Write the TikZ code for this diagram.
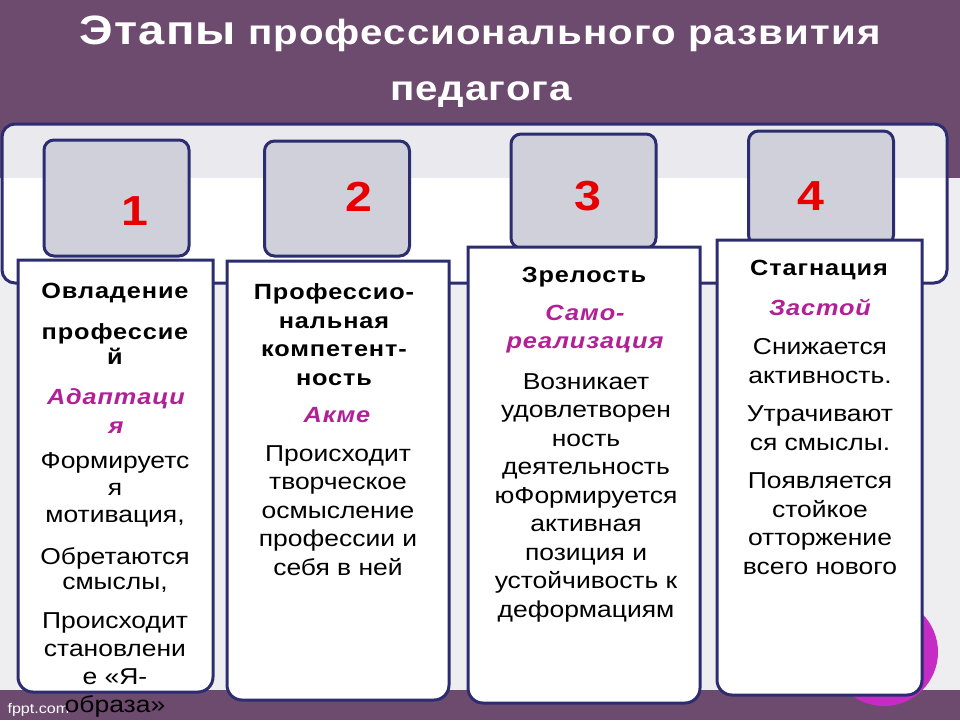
\documentclass[tikz,border=0pt]{standalone}
\usepackage{fontspec}
\setmainfont{Liberation Sans}[FakeStretch=1.15]
\usetikzlibrary{positioning}
\usetikzlibrary{calc}
\definecolor{slidepurple}{RGB}{108,75,110}
\definecolor{slidegrey}{RGB}{238,238,241}
\definecolor{framegrey}{RGB}{234,234,238}
\definecolor{navy}{RGB}{44,45,112}
\definecolor{numgrey}{RGB}{207,208,218}
\definecolor{numred}{RGB}{232,0,0}
\definecolor{keymagenta}{RGB}{178,32,150}
\definecolor{discmagenta}{RGB}{196,44,196}
\tikzset{frame/.style={draw=navy, line width=3pt, rounded corners=13pt}}
\tikzset{numbox/.style={rectangle, draw=navy, line width=3pt, fill=numgrey, rounded corners=10pt}}
\tikzset{numtext/.style={text=numred, font=\bfseries\fontsize{42}{44}\selectfont}}
\tikzset{stagebox/.style={draw=navy, line width=3pt, fill=white}}
\tikzset{stagehead/.style={align=center, font=\bfseries\fontsize{22}{28.5}\selectfont\addfontfeature{LetterSpace=4}}}
\tikzset{stagekey/.style={align=center, text=keymagenta, font=\bfseries\itshape\fontsize{22}{28.5}\selectfont\addfontfeature{LetterSpace=4}}}
\tikzset{stagetext/.style={align=center, font=\fontsize{23}{28.5}\selectfont}}
\tikzset{title/.style={text=white, font=\bfseries\fontsize{35}{40}\selectfont\addfontfeature{LetterSpace=3}}}
\tikzset{footer/.style={text=white, font=\fontsize{14}{16}\selectfont}}

\begin{document}
\begin{tikzpicture}[x=1pt,y=-1pt]
    \useasboundingbox (0,0) rectangle (960,720);

    % Slide background.
    \fill[slidepurple] (0,0) rectangle (960,178);
    \fill[slidegrey] (0,178) rectangle (960,690);
    \fill[slidepurple] (0,690) rectangle (960,720);
    \node[footer, anchor=base west] (fppt) at (4,713) {fppt.com};

    % Title.
    \node[title, anchor=base] (title1) at (480,44) {{\fontsize{41}{44}\selectfont Этапы} профессионального развития};
    \node[title, anchor=base] (title2) at (481,100) {педагога};

    % Frame behind the numbers.
    \begin{scope}
        \clip[rounded corners=13pt] (2,124) rectangle (947,283);
        \fill[white] (2,124) rectangle (947,283);
        \fill[framegrey] (2,124) rectangle (947,178);
    \end{scope}
    \draw[frame] (2,124) rectangle (947,283);

    % Number boxes.
    \node[numbox, minimum width=145pt, minimum height=116pt] (box1) at (116.5,198) {};
    \node[numbox, minimum width=145pt, minimum height=115pt] (box2) at (337,198.5) {};
    \node[numbox, minimum width=145pt, minimum height=114pt] (box3) at (583.5,191) {};
    \node[numbox, minimum width=145pt, minimum height=114pt] (box4) at (821,188) {};
    \node[numtext] (num1) at ($(box1.center) + (18.5,13)$) {1};
    \node[numtext] (num2) at ($(box2.center) + (22,-1.5)$) {2};
    \node[numtext] (num3) at ($(box3.center) + (4.5,5)$) {3};
    \node[numtext] (num4) at ($(box4.center) + (-10,8)$) {4};

    % Disc behind the last stage.
    \fill[discmagenta] (884,652) circle (54pt);

    % Stage boxes.
    \draw[stagebox] (18,260) -- (213,260) -- (213,600) [rounded corners=15pt] -- (213,692) -- (18,692) -- (18,600) [sharp corners] -- cycle;
    \draw[stagebox] (227,261) -- (449,261) -- (449,600) [rounded corners=15pt] -- (449,700) -- (227,700) -- (227,600) [sharp corners] -- cycle;
    \draw[stagebox] (468,247) -- (700,247) -- (700,600) [rounded corners=15pt] -- (700,703) -- (468,703) -- (468,600) [sharp corners] -- cycle;
    \draw[stagebox] (717,240) -- (922,240) -- (922,600) [rounded corners=15pt] -- (922,695) -- (717,695) -- (717,600) [sharp corners] -- cycle;

    % First stage.
    \node[stagehead] (head1) at (115,293) {Овладение};
    \node[stagehead, font=\bfseries\fontsize{22}{25}\selectfont\addfontfeature{LetterSpace=4}] (head1b) at (115,344.5) {профессие\\й};
    \node[stagekey] (key1) at (116,411) {Адаптаци\\я};
    \node[stagetext, font=\fontsize{23}{27}\selectfont] (text1a) at (115,490) {Формируетс\\я\\мотивация,};
    \node[stagetext, font=\fontsize{23}{25}\selectfont] (text1b) at (115,570.5) {Обретаются\\смыслы,};
    \node[stagetext, font=\fontsize{23}{28}\selectfont] (text1c) at (115,665) {Происходит\\становлени\\е «Я-\\образа»};

    % Second stage.
    \node[stagehead] (head2) at (334,334.75) {Профессио-\\нальная\\компетент-\\ность};
    \node[stagekey] (key2) at (337,415) {Акме};
    \node[stagetext] (text2) at (338,510.5) {Происходит\\творческое\\осмысление\\профессии и\\себя в ней};

    % Third stage.
    \node[stagehead] (head3) at (584,277) {Зрелость};
    \node[stagekey] (key3) at (585,329) {Само-\\реализация};
    \node[stagetext] (text3) at (586,497.5) {Возникает\\удовлетворен\\ность\\деятельность\\юФормируется\\активная\\позиция и\\устойчивость к\\деформациям};

    % Fourth stage.
    \node[stagehead] (head4) at (819,270) {Стагнация};
    \node[stagekey] (key4) at (820,307) {Застой};
    \node[stagetext] (text4a) at (820,361) {Снижается\\активность.};
    \node[stagetext] (text4b) at (820,428) {Утрачивают\\ся смыслы.};
    \node[stagetext] (text4c) at (820,523.5) {Появляется\\стойкое\\отторжение\\всего нового};

\end{tikzpicture}
\end{document}
